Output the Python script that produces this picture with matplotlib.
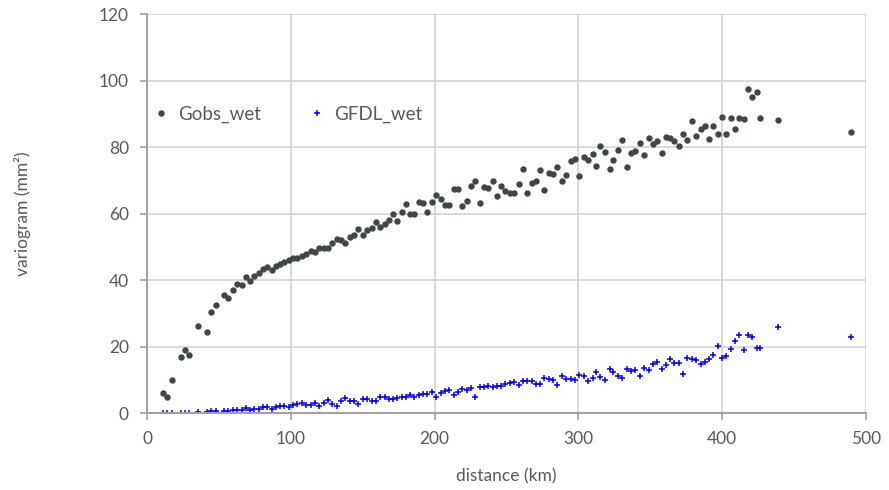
import numpy as np
import matplotlib.pyplot as plt

# distance bins (km)
distance = [11.4, 14.1, 17.4, 23.6, 26.7, 29.4, 35.7, 41.5, 44.5, 47.8,
            53.5, 56.6, 59.6, 62.8, 65.8, 68.6, 71.6, 74.6, 77.9, 80.9,
            83.7, 86.7, 89.7, 92.5, 95.5, 98.5, 101.5, 104.5, 107.6, 110.6,
            113.8, 117.0, 119.8, 123.1, 126.1, 128.9, 131.9, 134.7, 137.9, 140.9,
            143.9, 147.0, 150.0, 153.2, 156.3, 159.3, 162.0, 165.3, 168.3, 171.1,
            174.1, 177.1, 180.1, 182.9, 185.9, 189.2, 192.1, 194.9, 198.0, 201.0,
            204.3, 207.3, 210.2, 213.3, 216.3, 219.3, 222.3, 225.1, 228.3, 231.4,
            234.1, 237.4, 240.4, 243.4, 246.2, 249.2, 252.2, 255.2, 258.5, 261.5,
            264.3, 267.5, 270.5, 273.3, 276.3, 279.3, 282.5, 285.3, 288.4, 291.4,
            294.6, 297.6, 300.6, 303.7, 306.7, 309.9, 312.4, 315.2, 318.7, 321.7,
            324.3, 327.6, 330.6, 333.8, 336.4, 339.6, 342.6, 345.6, 348.9, 351.7,
            354.9, 357.9, 360.7, 363.7, 366.7, 369.7, 372.9, 375.7, 378.8, 381.8,
            385.0, 388.0, 390.8, 393.8, 397.1, 400.1, 402.9, 405.9, 408.9, 411.9,
            414.9, 417.9, 420.9, 424.0, 426.3, 439.0, 489.5]

gobs_wet = [5.9, 4.9, 9.8, 16.8, 19.0, 17.6, 26.2, 24.3, 30.4, 32.5,
            35.4, 34.6, 37.1, 38.8, 38.4, 41.0, 39.8, 41.2, 42.0, 43.2,
            43.8, 43.1, 44.2, 44.8, 45.4, 46.2, 46.8, 46.8, 47.2, 48.0,
            48.9, 48.4, 49.8, 49.8, 49.8, 51.1, 52.5, 52.0, 51.1, 53.0,
            53.6, 55.5, 53.6, 55.2, 55.8, 57.5, 56.1, 57.0, 58.0, 59.8,
            57.9, 60.5, 63.0, 59.9, 59.9, 63.5, 63.3, 60.5, 63.5, 65.5,
            64.5, 62.5, 62.7, 67.3, 67.5, 62.3, 63.9, 68.3, 69.7, 63.1,
            68.1, 67.7, 69.9, 65.2, 68.3, 66.8, 66.3, 66.3, 68.9, 73.5,
            66.2, 69.3, 69.9, 73.1, 67.0, 72.2, 72.0, 74.1, 69.7, 71.7,
            75.9, 76.3, 71.2, 76.9, 76.1, 77.9, 74.2, 80.2, 78.5, 73.3,
            76.0, 79.1, 82.1, 74.0, 78.1, 78.8, 81.4, 77.7, 82.9, 81.1,
            81.9, 78.3, 83.1, 82.9, 81.9, 80.2, 84.1, 82.3, 87.9, 83.5,
            85.4, 86.4, 82.5, 86.4, 84.1, 89.2, 84.1, 88.8, 85.4, 88.8,
            88.6, 97.5, 95.2, 96.5, 88.8, 88.2, 84.6]

gfdl_wet = [0.0, 0.0, 0.0, 0.1, 0.1, 0.1, 0.4, 0.2, 0.5, 0.6,
            0.7, 0.7, 0.8, 1.0, 0.9, 1.4, 0.9, 1.2, 1.1, 1.9,
            1.8, 1.1, 1.9, 2.1, 2.2, 1.9, 2.3, 2.6, 2.9, 2.5,
            2.3, 3.1, 2.1, 3.1, 3.8, 2.6, 2.2, 3.5, 4.4, 3.5,
            3.5, 2.8, 4.1, 4.2, 3.6, 3.5, 4.7, 4.8, 4.3, 4.3,
            4.4, 4.7, 4.9, 5.5, 4.9, 5.5, 5.7, 5.8, 6.2, 4.9,
            6.1, 6.6, 6.9, 5.5, 6.4, 7.3, 7.0, 7.6, 4.7, 7.8,
            7.8, 8.2, 7.8, 8.2, 8.0, 8.8, 9.1, 9.3, 8.5, 9.6,
            9.7, 9.7, 8.8, 8.8, 10.6, 10.2, 9.8, 8.5, 11.3, 10.3,
            10.3, 9.8, 11.6, 11.2, 9.5, 10.7, 12.4, 10.9, 9.9, 13.2,
            12.5, 11.2, 10.5, 13.3, 12.7, 12.9, 11.3, 13.7, 13.1, 14.7,
            15.4, 13.2, 14.4, 16.4, 15.1, 15.1, 11.8, 16.6, 16.3, 15.9,
            14.7, 15.3, 16.3, 17.6, 20.1, 16.7, 17.1, 19.2, 21.6, 23.5,
            18.9, 23.5, 22.9, 19.6, 19.5, 26.0, 22.9]

txt = '#595959'
plt.rcParams['font.family'] = ['Lato', 'DejaVu Sans']

fig = plt.figure(figsize=(8.89, 4.90), dpi=100)
ax = fig.add_axes([0.1654, 0.157, 0.8086, 0.814])

ax.plot(distance, gobs_wet, linestyle='none', marker='o', markersize=3.6,
        color='#3f4745', label='Gobs_wet')
ax.plot(distance, gfdl_wet, linestyle='none', marker='+', markersize=4.5,
        markeredgewidth=1.1, color='#0000ff', label='GFDL_wet')

ax.set_xlim(0, 500)
ax.set_ylim(0, 120)
ax.set_xticks(np.arange(0, 501, 100))
ax.set_yticks(np.arange(0, 121, 20))
ax.grid(True, color='#d0d0d0', linewidth=1.1)
ax.set_axisbelow(True)

for s in ['top', 'right']:
    ax.spines[s].set_visible(False)
for s in ['left', 'bottom']:
    ax.spines[s].set_color('#a0a0a0')
    ax.spines[s].set_linewidth(1.4)
ax.tick_params(colors='#a0a0a0', labelcolor=txt, labelsize=12.5, length=5,
               width=1.2, direction='out', pad=8)

ax.set_xlabel('distance (km)', fontsize=12.5, color=txt, labelpad=15.5)
ax.set_ylabel('variogram (mm²)', fontsize=12.5, color=txt, labelpad=49)

ax.legend(loc='center left', bbox_to_anchor=(0.0064, 0.749), ncol=2,
          frameon=False, fontsize=13.5, labelcolor=txt, handlelength=1.0,
          handletextpad=0.4, columnspacing=2.5, borderpad=0,
          borderaxespad=0)

fig.savefig('out.png', dpi=100)
